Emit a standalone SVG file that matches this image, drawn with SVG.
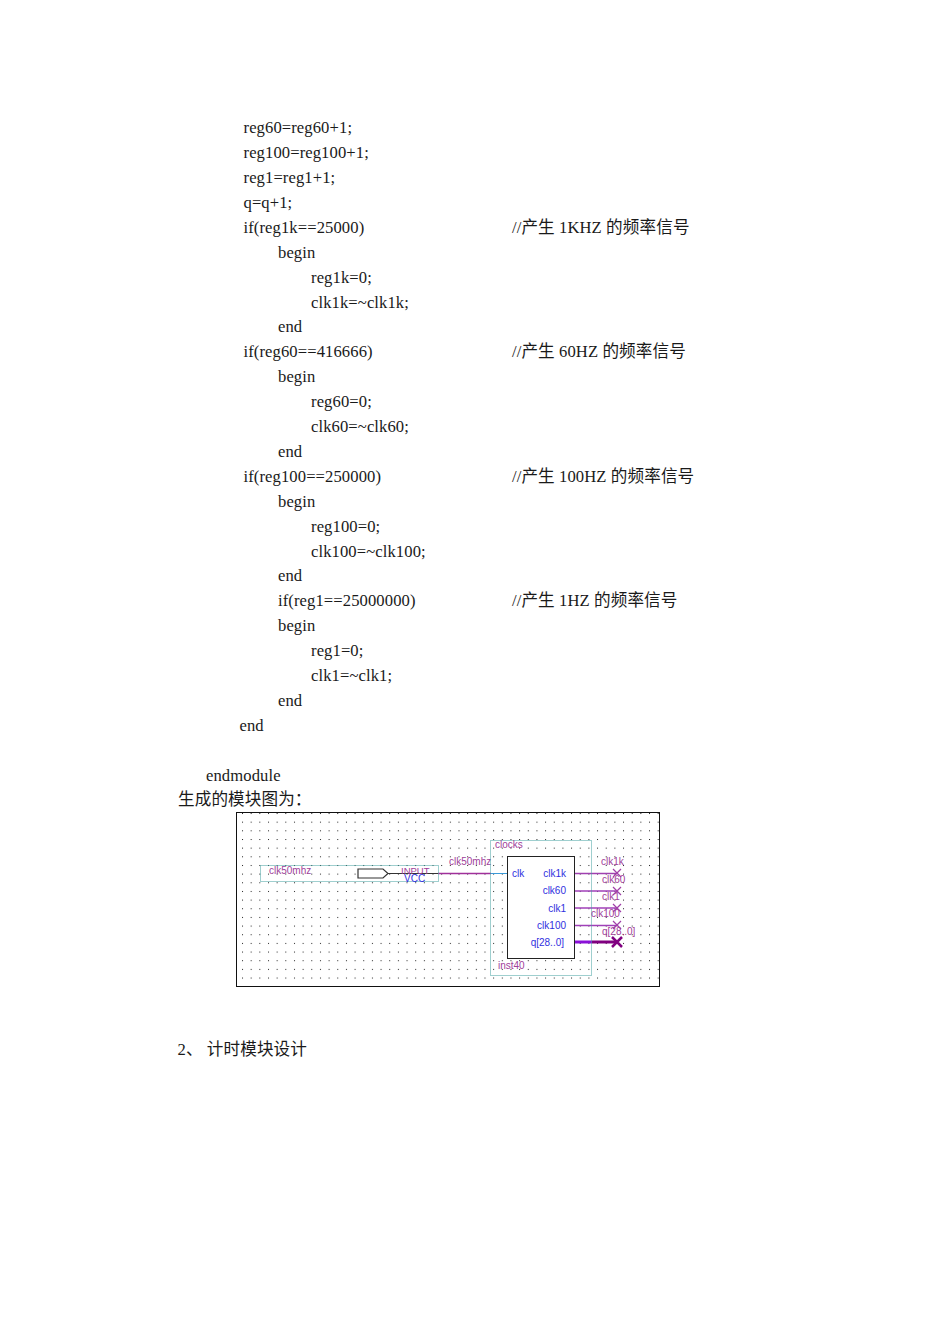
<svg xmlns="http://www.w3.org/2000/svg" width="950" height="1344" viewBox="0 0 950 1344">
<style>
.t{font-family:"Liberation Serif","Noto Sans CJK SC",serif;font-size:16.6px;letter-spacing:.1px;fill:#1a1a1a}
.a{font-family:"Liberation Sans",sans-serif;font-size:10px}
.m{fill:#a0409a}
.b{fill:#3030e0}
.box{fill:none;stroke:#3f9f9f;stroke-width:1;stroke-dasharray:1 1}
.x{stroke:#a040a8;stroke-width:1.2;fill:none}
</style>
<defs>
<pattern id="dots" x="242" y="813" width="8.66" height="8.66" patternUnits="userSpaceOnUse"><rect width="1" height="1" fill="#222"/></pattern>
</defs>
<rect width="950" height="1344" fill="#fff"/>
<g id="code">
<text class="t" x="243.500" y="133">reg60=reg60+1;</text>
<text class="t" x="243.500" y="158">reg100=reg100+1;</text>
<text class="t" x="243.500" y="183">reg1=reg1+1;</text>
<text class="t" x="243.500" y="208">q=q+1;</text>
<text class="t" x="243.500" y="233">if(reg1k==25000)</text>
<text class="t" x="512" y="233">//产生 1KHZ 的频率信号</text>
<text class="t" x="278" y="258">begin</text>
<text class="t" x="311" y="283">reg1k=0;</text>
<text class="t" x="311" y="308">clk1k=~clk1k;</text>
<text class="t" x="278" y="332">end</text>
<text class="t" x="243.500" y="357">if(reg60==416666)</text>
<text class="t" x="512" y="357">//产生 60HZ 的频率信号</text>
<text class="t" x="278" y="382">begin</text>
<text class="t" x="311" y="407">reg60=0;</text>
<text class="t" x="311" y="432">clk60=~clk60;</text>
<text class="t" x="278" y="457">end</text>
<text class="t" x="243.500" y="482">if(reg100==250000)</text>
<text class="t" x="512" y="482">//产生 100HZ 的频率信号</text>
<text class="t" x="278" y="507">begin</text>
<text class="t" x="311" y="532">reg100=0;</text>
<text class="t" x="311" y="557">clk100=~clk100;</text>
<text class="t" x="278" y="581">end</text>
<text class="t" x="278" y="606">if(reg1==25000000)</text>
<text class="t" x="512" y="606">//产生 1HZ 的频率信号</text>
<text class="t" x="278" y="631">begin</text>
<text class="t" x="311" y="656">reg1=0;</text>
<text class="t" x="311" y="681">clk1=~clk1;</text>
<text class="t" x="278" y="706">end</text>
<text class="t" x="239.500" y="731">end</text>
<text class="t" x="206" y="781">endmodule</text>
<text class="t" x="178" y="805">生成的模块图为：</text>
<text class="t" x="177.500" y="1055">2、 计时模块设计</text>
</g>
<g id="canvas">
<rect x="236.500" y="812.500" width="423" height="174" fill="url(#dots)" stroke="#111" stroke-width="1"/>
</g>
<g id="connectors">
<line x1="388" y1="873.500" x2="438" y2="873.500" stroke="#333" stroke-width="1"/>
<line x1="438" y1="873.500" x2="491" y2="873.500" stroke="#a0309a" stroke-width="1.400"/>
<line x1="491" y1="873.500" x2="507" y2="873.500" stroke="#3a9ad8" stroke-width="1"/>
<line x1="575" y1="873.500" x2="618" y2="873.500" stroke="#a040b0" stroke-width="1.400"/>
<line x1="575" y1="891" x2="618" y2="891" stroke="#a040b8" stroke-width="1.400"/>
<line x1="575" y1="908" x2="618" y2="908" stroke="#a040b8" stroke-width="1.400"/>
<line x1="575" y1="925.500" x2="618" y2="925.500" stroke="#a040b8" stroke-width="1.400"/>
<line x1="575" y1="942" x2="592" y2="942" stroke="#8a10d8" stroke-width="3"/>
<line x1="592" y1="942" x2="618" y2="942" stroke="#800080" stroke-width="3"/>
<path class="x" d="M613 869l8 8m0-8l-8 8M613 887l8 8m0-8l-8 8M613 904l8 8m0-8l-8 8M613 921l8 8m0-8l-8 8"/>
<path d="M612 937l10 10m0-10l-10 10" fill="none" stroke="#800080" stroke-width="2.500"/>
</g>
<g id="input-pin">
<rect class="box" x="260.500" y="865.500" width="178" height="16"/>
<path d="M358 869h25l5 4.500l-5 4.500h-25z" fill="#fff" stroke="#333" stroke-width="1.200"/>
<text class="a m" x="269" y="874">clk50mhz</text>
<text class="a m" x="401" y="874" style="font-size:9.500px">INPUT</text>
<text class="a b" x="404" y="882">VCC</text>
<text class="a m" x="449" y="865">clk50mhz</text>
</g>
<g id="clocks">
<rect class="box" x="490.500" y="840.500" width="101" height="135"/>
<rect x="507.500" y="856.500" width="67" height="102" fill="#fff" stroke="#222" stroke-width="1"/>
<text class="a m" x="495" y="848">clocks</text>
<text class="a b" x="512" y="877">clk</text>
<text class="a b" x="566" y="877" text-anchor="end">clk1k</text>
<text class="a b" x="566" y="894" text-anchor="end">clk60</text>
<text class="a b" x="566" y="912" text-anchor="end">clk1</text>
<text class="a b" x="566" y="929" text-anchor="end">clk100</text>
<text class="a b" x="564" y="946" text-anchor="end">q[28..0]</text>
<text class="a m" x="498" y="969">inst40</text>
</g>
<g id="outputs">
<text class="a m" x="601" y="865">clk1k</text>
<text class="a m" x="602" y="883">clk60</text>
<text class="a m" x="602" y="900">clk1</text>
<text class="a m" x="591" y="917">clk100</text>
<text class="a m" x="602" y="935">q[28..0]</text>
</g>
</svg>
